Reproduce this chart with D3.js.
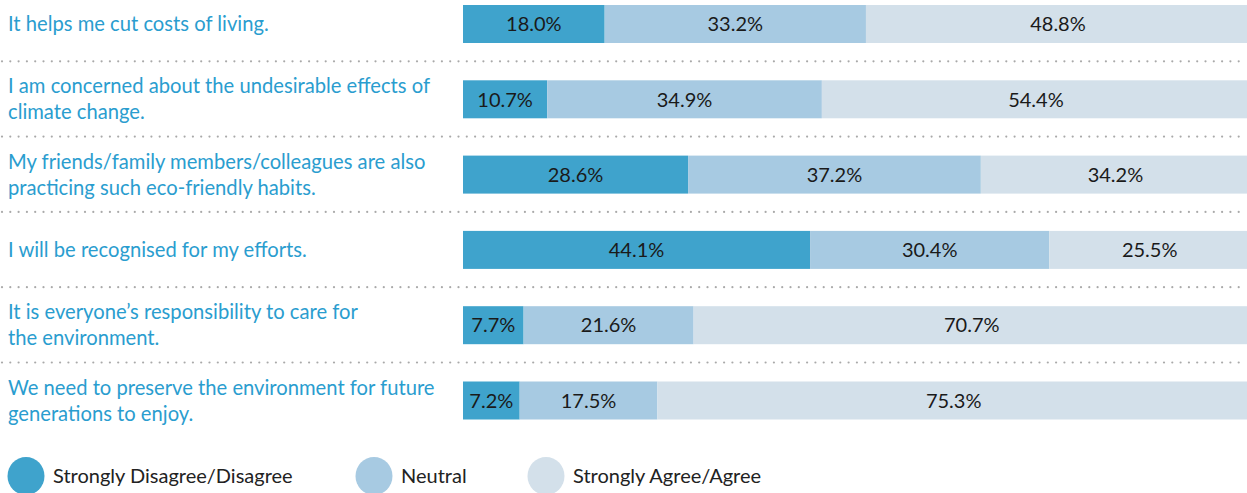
<!DOCTYPE html>
<html>
<head>
<meta charset="utf-8">
<script src="https://cdn.jsdelivr.net/npm/d3@7"></script>
<style>
  html, body { margin: 0; padding: 0; background: #fff; }
  svg { display: block; }
</style>
</head>
<body>
<svg id="chart" width="1247" height="493"></svg>
<script>
// Survey statements (each split into the lines it is printed on)
const statements = [
  ["It helps me cut costs of living."],
  ["I am concerned about the undesirable effects of", "climate change."],
  ["My friends/family members/colleagues are also", "practicing such eco-friendly habits."],
  ["I will be recognised for my efforts."],
  ["It is everyone\u2019s responsibility to care for", "the environment."],
  ["We need to preserve the environment for future", "generations to enjoy."]
];

// Response groups
const groups = ["Strongly Disagree/Disagree", "Neutral", "Strongly Agree/Agree"];

// Share of respondents (%) per statement, one array per response group
const disagree = [18.0, 10.7, 28.6, 44.1, 7.7, 7.2];
const neutral  = [33.2, 34.9, 37.2, 30.4, 21.6, 17.5];
const agree    = [48.8, 54.4, 34.2, 25.5, 70.7, 75.3];

const colors = ["#3fa3cc", "#a7cae2", "#d3e0ea"];
const FONT = "Lato, 'Open Sans', sans-serif";

const svg = d3.select("#chart");
const W = 1247;

const rowIdx = d3.range(statements.length);
const rowStep = 75.3;
const barTop = i => 5 + i * rowStep;
const barH = 38;

const x = d3.scaleLinear().domain([0, 100]).range([463, 1250]);

const series = [disagree, neutral, agree];
const stacked = d3.stack().keys([0, 1, 2]).value((d, k) => series[k][d])(rowIdx);

// Dotted separators between rows
const dotXs = d3.range(2, W, 8.3);
d3.range(1, statements.length).forEach(s => {
  const yy = barTop(s) - 19;
  svg.append("g").selectAll("circle").data(dotXs).join("circle")
    .attr("cx", d => d).attr("cy", yy).attr("r", 1.1).attr("fill", "#a9a9a9");
});

// Stacked bars with centred value labels
stacked.forEach((layer, k) => {
  const g = svg.append("g");
  g.selectAll("rect").data(layer).join("rect")
    .attr("x", d => x(d[0]))
    .attr("y", d => barTop(d.data))
    .attr("width", d => x(d[1]) - x(d[0]))
    .attr("height", barH)
    .attr("fill", colors[k]);
  g.selectAll("text").data(layer).join("text")
    .attr("x", d => (x(d[0]) + x(d[1])) / 2)
    .attr("y", d => barTop(d.data) + barH / 2)
    .attr("dy", "0.36em")
    .attr("text-anchor", "middle")
    .attr("font-family", FONT)
    .attr("font-size", 20)
    .attr("fill", "#1a1a1a")
    .text(d => series[k][d.data].toFixed(1) + "%");
});

// Statement labels
statements.forEach((lines, i) => {
  const cy = barTop(i) + barH / 2;
  const lh = 26;
  const t = svg.append("text")
    .attr("font-family", FONT)
    .attr("font-size", 20.2)
    .attr("fill", "#2a9dcf");
  lines.forEach((ln, j) => {
    t.append("tspan")
      .attr("x", 8)
      .attr("y", cy + (j - (lines.length - 1) / 2) * lh)
      .attr("dy", "0.35em")
      .text(ln);
  });
});

// Legend
const legX = [26, 374, 546];
const leg = svg.append("g").selectAll("g").data(groups).join("g")
  .attr("transform", (d, i) => `translate(${legX[i]},476)`);
leg.append("ellipse").attr("rx", 18.5).attr("ry", 19).attr("fill", (d, i) => colors[i]);
leg.append("text")
  .attr("x", 27).attr("dy", "0.36em")
  .attr("font-family", FONT)
  .attr("font-size", 20)
  .attr("fill", "#222")
  .text(d => d);
</script>
</body>
</html>
